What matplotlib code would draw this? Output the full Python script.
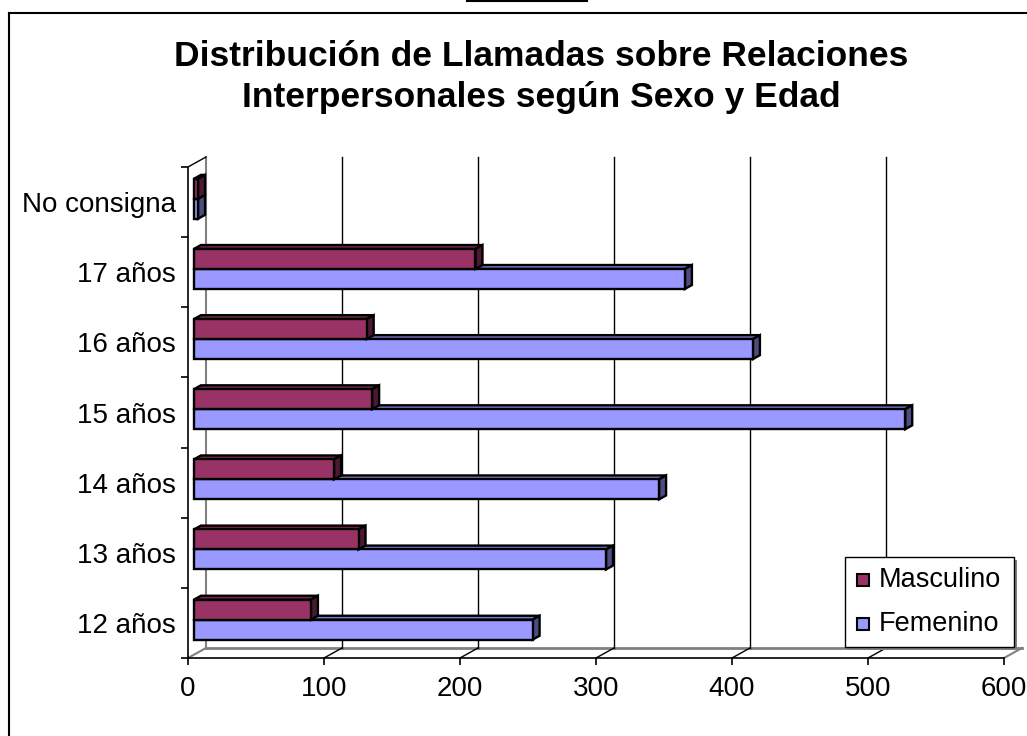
import matplotlib
matplotlib.use("Agg")
import matplotlib.pyplot as plt
from matplotlib.patches import Polygon, Rectangle
from matplotlib.lines import Line2D

plt.rcParams['font.family'] = ['Liberation Sans', 'DejaVu Sans']

# ---------------- data ----------------
categories = ["12 años", "13 años", "14 años", "15 años", "16 años", "17 años", "No consigna"]
masculino = [86, 121, 103, 131, 127, 207, 3]
femenino = [249, 303, 342, 523, 411, 361, 3]
series_names = ["Masculino", "Femenino"]
x_ticks = [0, 100, 200, 300, 400, 500, 600]
title = "Distribución de Llamadas sobre Relaciones\nInterpersonales según Sexo y Edad"

# colours (front, top, side)
m_cols = ("#993366", "#7a2952", "#4c1933")
f_cols = ("#9999ff", "#7a7acc", "#4c4c80")

W, H = 1027, 736
fig = plt.figure(figsize=(W / 100, H / 100), dpi=100)

# frame of the chart area
fig.add_artist(Line2D([9 / W, 9 / W], [0, 1 - 13 / H], transform=fig.transFigure, color="black", lw=1.5))
fig.add_artist(Line2D([9 / W, 1], [1 - 13 / H, 1 - 13 / H], transform=fig.transFigure, color="black", lw=1.5))
fig.add_artist(Line2D([467 / W, 587 / W], [1 - 0.5 / H, 1 - 0.5 / H], transform=fig.transFigure, color="black", lw=1.5))

# plot axes: front plane
x0px, x1px = 188, 1004
ytop, ybot = 167, 658
ax = fig.add_axes([x0px / W, 1 - ybot / H, (x1px - x0px) / W, (ybot - ytop) / H])
ax.set_xlim(0, 600)
ax.set_ylim(-0.5, len(categories) - 0.5)
ax.patch.set_alpha(0)

px_x = 600 / (x1px - x0px)
px_y = len(categories) / (ybot - ytop)
DX = 18 * px_x      # depth offset in data units
DY = 10 * px_y

ylo, yhi = -0.5, len(categories) - 0.5

# floor back edge
ax.plot([DX, 600 + DX], [ylo + DY, ylo + DY], color="#808080", lw=2, clip_on=False, zorder=1)
# floor diagonals
for t in x_ticks:
    ax.plot([t, t + DX], [ylo, ylo + DY], color="#808080" if t in (0, 600) else "black",
            lw=1 if t not in (0, 600) else 1.5, clip_on=False, zorder=1)
# back wall gridlines
for t in x_ticks[:-1]:
    ax.plot([t + DX, t + DX], [ylo + DY, yhi + DY], color="#808080" if t == 0 else "black",
            lw=1.5 if t == 0 else 1, clip_on=False, zorder=1)
# left wall top diagonal
ax.plot([0, DX], [yhi, yhi + DY], color="black", lw=1, clip_on=False, zorder=1)

# bars
f1, f2 = 0.33, 0.72
bh = 0.285


def bar3d(val, yb, cols):
    x0, x1 = 0.0, val
    y0, y1 = yb, yb + bh
    a = (f1 * DX, f1 * DY)
    b = (f2 * DX, f2 * DY)
    front = [(x0 + a[0], y0 + a[1]), (x1 + a[0], y0 + a[1]), (x1 + a[0], y1 + a[1]), (x0 + a[0], y1 + a[1])]
    top = [(x0 + a[0], y1 + a[1]), (x1 + a[0], y1 + a[1]), (x1 + b[0], y1 + b[1]), (x0 + b[0], y1 + b[1])]
    side = [(x1 + a[0], y0 + a[1]), (x1 + b[0], y0 + b[1]), (x1 + b[0], y1 + b[1]), (x1 + a[0], y1 + a[1])]
    for poly, c in ((top, cols[1]), (side, cols[2]), (front, cols[0])):
        ax.add_patch(Polygon(poly, closed=True, facecolor=c, edgecolor="black", lw=1.7,
                             joinstyle="miter", clip_on=False, zorder=3))


for i in range(len(categories) - 1, -1, -1):
    bar3d(femenino[i], i - bh, f_cols)
    bar3d(masculino[i], i, m_cols)

# axes styling
for s in ("top", "right"):
    ax.spines[s].set_visible(False)
ax.spines["left"].set_linewidth(1.2)
ax.spines["bottom"].set_linewidth(1.2)
ax.spines["left"].set_zorder(2)
ax.spines["bottom"].set_zorder(2)
ax.set_xticks(x_ticks)
ax.set_xticklabels([str(t) for t in x_ticks], fontsize=20)
ax.tick_params(axis="x", length=5, width=1.2, pad=8, direction="out")
ax.set_yticks([k - 0.5 for k in range(len(categories) + 1)])
ax.set_yticklabels([])
ax.set_yticks(range(len(categories)), minor=True)
ax.set_yticklabels(categories, minor=True, fontsize=20)
ax.tick_params(axis="y", which="major", length=5, width=1.2, direction="out")
ax.tick_params(axis="y", which="minor", length=0, pad=9)

# title
fig.text(541 / W, 1 - 77 / H, title, ha="center", va="center", fontsize=25.5, fontweight="bold",
         linespacing=1.28)

# legend
lx0, ly0, lx1, ly1 = 845, 557, 1014, 647
fig.add_artist(Rectangle((lx0 / W + 3 / W, 1 - ly1 / H - 3 / H), (lx1 - lx0) / W, (ly1 - ly0) / H,
                         transform=fig.transFigure, facecolor="#808080", edgecolor="none", zorder=4))
fig.add_artist(Rectangle((lx0 / W, 1 - ly1 / H), (lx1 - lx0) / W, (ly1 - ly0) / H,
                         transform=fig.transFigure, facecolor="white", edgecolor="black", lw=1, zorder=5))
for k, (name, cols) in enumerate(zip(series_names, (m_cols, f_cols))):
    yc = 580 + k * 44
    fig.add_artist(Rectangle((857 / W, 1 - (yc + 6) / H), 12 / W, 12 / H, transform=fig.transFigure,
                             facecolor=cols[0], edgecolor="black", lw=1.5, zorder=6))
    fig.text(879 / W, 1 - yc / H, name, ha="left", va="center", fontsize=19.5, zorder=6)

fig.savefig("out.png", dpi=100)
